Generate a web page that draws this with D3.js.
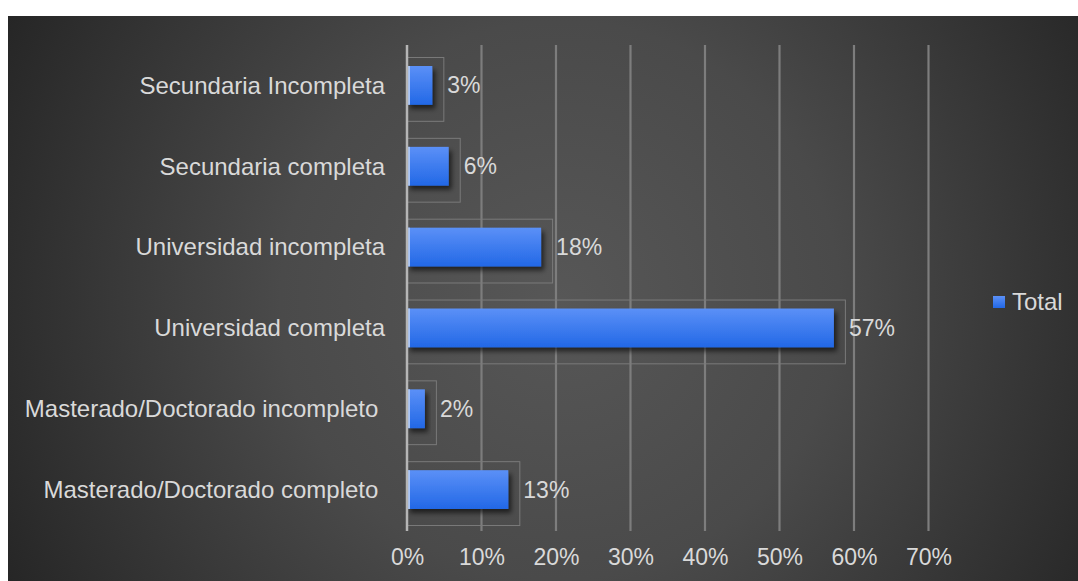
<!DOCTYPE html>
<html><head><meta charset="utf-8">
<script src="https://cdn.jsdelivr.net/npm/d3@7/dist/d3.min.js"></script>
<style>html,body{margin:0;padding:0;background:#fff;}svg{display:block;}</style>
</head><body>
<script>
const categories = ["Secundaria Incompleta","Secundaria completa","Universidad incompleta","Universidad completa","Masterado/Doctorado incompleto ","Masterado/Doctorado completo "];
const values = [0.034, 0.056, 0.18, 0.573, 0.024, 0.136];
const valueLabels = ["3%","6%","18%","57%","2%","13%"];
const tickValues = [0,0.1,0.2,0.3,0.4,0.5,0.6,0.7];
const seriesName = "Total";

const W=1078,H=581;
const svg=d3.select("body").append("svg").attr("width",W).attr("height",H);
const defs=svg.append("defs");
const bg=defs.append("radialGradient").attr("id","bg").attr("gradientUnits","userSpaceOnUse")
  .attr("cx",560).attr("cy",300).attr("r",620);
bg.append("stop").attr("offset","0").attr("stop-color","#575757");
bg.append("stop").attr("offset","0.45").attr("stop-color","#4a4a4a");
bg.append("stop").attr("offset","1").attr("stop-color","#262626");
const bar=defs.append("linearGradient").attr("id","bar").attr("x1",0).attr("y1",0).attr("x2",0).attr("y2",1);
bar.append("stop").attr("offset","0").attr("stop-color","#5b90f7");
bar.append("stop").attr("offset","1").attr("stop-color","#2268e6");
const sh=defs.append("filter").attr("id","sh").attr("x","-20%").attr("y","-30%").attr("width","150%").attr("height","180%");
sh.append("feGaussianBlur").attr("in","SourceAlpha").attr("stdDeviation",2.5).attr("result","b");
sh.append("feOffset").attr("dx",3).attr("dy",4).attr("result","o");
sh.append("feComponentTransfer").append("feFuncA").attr("type","linear").attr("slope",0.6);
const fm=sh.append("feMerge"); fm.append("feMergeNode"); fm.append("feMergeNode").attr("in","SourceGraphic");

svg.append("rect").attr("x",8).attr("y",16).attr("width",W-8).attr("height",H-16).attr("fill","url(#bg)");

const x=d3.scaleLinear().domain([0,0.7]).range([407,928.5]);
const y=d3.scaleBand().domain(categories).range([45,530]).paddingInner(0.52).paddingOuter(0.26);

const font="'Liberation Sans', Arial, sans-serif";
const textCol="#d9d9d9";

const g=svg.append("g");
g.selectAll("line.grid").data(tickValues.slice(1)).join("line")
  .attr("x1",d=>x(d)).attr("x2",d=>x(d)).attr("y1",45).attr("y2",531)
  .attr("stroke","#7d7d7d").attr("stroke-width",2.2);

g.selectAll("rect.frame").data(values).join("rect")
  .attr("x",x(0)).attr("y",(d,i)=>y(categories[i])-8.5)
  .attr("width",d=>x(d)-x(0)+11.5).attr("height",y.bandwidth()+25)
  .attr("fill","none").attr("stroke","#7a7a7a").attr("stroke-width",1);

g.selectAll("rect.bar").data(values).join("rect")
  .attr("x",x(0)).attr("y",(d,i)=>y(categories[i]))
  .attr("width",d=>x(d)-x(0)).attr("height",y.bandwidth())
  .attr("fill","url(#bar)").attr("filter","url(#sh)");
g.selectAll("rect.edge").data(values).join("rect")
  .attr("x",x(0)).attr("y",(d,i)=>y(categories[i]))
  .attr("width",3).attr("height",y.bandwidth())
  .attr("fill","#a9c4f5");

g.append("line").attr("x1",x(0)).attr("x2",x(0)).attr("y1",45).attr("y2",531)
  .attr("stroke","#b5b5b5").attr("stroke-width",2.5);

svg.selectAll("text.cat").data(categories).join("text")
  .attr("x",385).attr("y",d=>y(d)+y.bandwidth()/2).attr("dy","0.35em")
  .attr("text-anchor","end").attr("font-family",font).attr("font-size",24)
  .attr("fill",textCol).style("white-space","pre").text(d=>d);

svg.selectAll("text.val").data(values).join("text")
  .attr("x",d=>x(d)+15).attr("y",(d,i)=>y(categories[i])+y.bandwidth()/2).attr("dy","0.35em")
  .attr("font-family",font).attr("font-size",23).attr("fill",textCol)
  .text((d,i)=>valueLabels[i]);

const axis=svg.append("g").attr("transform","translate(0,531)")
  .call(d3.axisBottom(x).tickValues(tickValues).tickFormat(d3.format(".0%")).tickSize(0).tickPadding(18));
axis.select(".domain").remove();
axis.selectAll("text").attr("font-family",font).attr("font-size",23).attr("fill",textCol);

svg.append("rect").attr("x",993).attr("y",296).attr("width",12).attr("height",12).attr("fill","url(#bar)");
svg.append("text").attr("x",1012).attr("y",302).attr("dy","0.35em").attr("font-family",font)
  .attr("font-size",24).attr("fill",textCol).text(seriesName);
</script>
</body></html>
